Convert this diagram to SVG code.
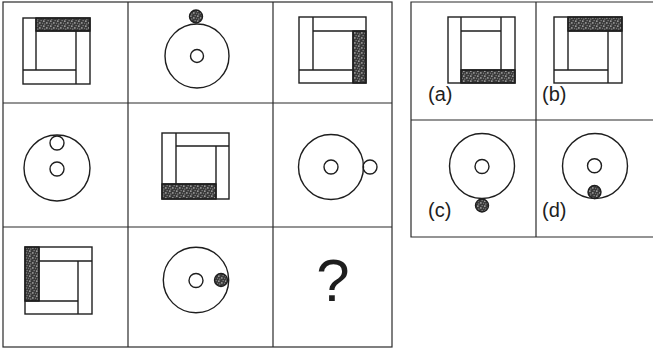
<svg xmlns="http://www.w3.org/2000/svg" width="653" height="352" viewBox="0 0 653 352">
<style>
.ln{fill:none;stroke:#1e1e1e;stroke-width:1.4}
.gr{fill:none;stroke:#2a2a2a;stroke-width:1.2}
.sh{fill:url(#stip);stroke:#1e1e1e;stroke-width:1.4}
.lb{font-family:"Liberation Sans",Arial,sans-serif;font-size:20px;fill:#1e1e1e}
.q{font-family:"Liberation Sans",Arial,sans-serif;font-size:60px;fill:#1e1e1e}
</style>
<defs>
<pattern id="stip" width="7" height="5" patternUnits="userSpaceOnUse">
<rect width="7" height="5" fill="#3a3a3a"/>
<rect x="1" y="0.6" width="1.6" height="1" fill="#d8d8d8"/>
<rect x="4.2" y="2.4" width="1.3" height="1.1" fill="#e6e6e6"/>
<rect x="2.2" y="3.6" width="1.1" height="0.9" fill="#b0b0b0"/>
<rect x="5.6" y="0.3" width="1" height="0.8" fill="#c0c0c0"/>
<rect x="0.2" y="2.8" width="0.9" height="0.9" fill="#a0a0a0"/>
</pattern>
</defs>
<rect width="653" height="352" fill="#ffffff"/>
<g id="grid">
<rect class="gr" x="3" y="2" width="389" height="345"/>
<line class="gr" x1="128" y1="2" x2="128" y2="347"/>
<line class="gr" x1="273" y1="2" x2="273" y2="347"/>
<line class="gr" x1="3" y1="103" x2="392" y2="103"/>
<line class="gr" x1="3" y1="227" x2="392" y2="227"/>
<polyline class="gr" points="656,2 411,2 411,237 656,237"/>
<line class="gr" x1="536" y1="2" x2="536" y2="237"/>
<line class="gr" x1="411" y1="120" x2="653" y2="120"/>
</g>
<g id="cell1">
<rect class="sh" x="36" y="18" width="54" height="13"/>
<rect class="ln" x="23" y="18" width="67" height="66"/>
<path class="ln" d="M36 18V70M36 31H90M76 31V84M23 70H76"/>
</g>
<g id="cell2">
<circle class="ln" cx="197" cy="56" r="32"/>
<circle class="ln" cx="197" cy="56" r="6.5"/>
<circle class="sh" cx="196" cy="16.5" r="6.5"/>
</g>
<g id="cell3">
<rect class="sh" x="353" y="31" width="13" height="52"/>
<rect class="ln" x="299" y="17" width="67" height="66"/>
<path class="ln" d="M313 17V70M313 31H366M353 31V83M299 70H353"/>
</g>
<g id="cell4">
<circle class="ln" cx="57" cy="168" r="33"/>
<circle class="ln" cx="57" cy="169" r="7"/>
<circle class="ln" cx="57" cy="143" r="7"/>
</g>
<g id="cell5">
<rect class="sh" x="162" y="184" width="54" height="15"/>
<rect class="ln" x="162" y="133" width="67" height="66"/>
<path class="ln" d="M176 133V184M176 146H229M216 146V199M162 184H216"/>
</g>
<g id="cell6">
<circle class="ln" cx="331" cy="167" r="32.5"/>
<circle class="ln" cx="331" cy="167" r="7"/>
<circle class="ln" cx="370" cy="167" r="7"/>
</g>
<g id="cell7">
<rect class="sh" x="25" y="247" width="14" height="54"/>
<rect class="ln" x="25" y="247" width="67" height="67"/>
<path class="ln" d="M39 247V301M39 261H92M78 261V314M25 301H78"/>
</g>
<g id="cell8">
<circle class="ln" cx="196" cy="280" r="32.7"/>
<circle class="ln" cx="196" cy="280.5" r="7"/>
<circle class="sh" cx="221" cy="280" r="6.5"/>
</g>
<g id="cell9">
<text class="q" x="333" y="301" text-anchor="middle">?</text>
</g>
<g id="optA">
<rect class="sh" x="461" y="70" width="54" height="13"/>
<rect class="ln" x="448" y="17" width="67" height="66"/>
<path class="ln" d="M461 17V83M461 31H501M501 17V70M461 70H515"/>
<text class="lb" x="428" y="101">(a)</text>
</g>
<g id="optB">
<rect class="sh" x="568" y="17" width="54" height="14"/>
<rect class="ln" x="554" y="17" width="68" height="66"/>
<path class="ln" d="M568 17V70M568 31H622M608 31V83M554 70H608"/>
<text class="lb" x="542" y="101">(b)</text>
</g>
<g id="optC">
<circle class="ln" cx="482" cy="166" r="32.5"/>
<circle class="ln" cx="482" cy="166.5" r="7"/>
<circle class="sh" cx="482" cy="205.5" r="6.5"/>
<text class="lb" x="428" y="217">(c)</text>
</g>
<g id="optD">
<circle class="ln" cx="595" cy="166" r="32.5"/>
<circle class="ln" cx="594.5" cy="165.7" r="7"/>
<circle class="sh" cx="594.5" cy="192" r="6.5"/>
<text class="lb" x="542" y="217">(d)</text>
</g>
</svg>
